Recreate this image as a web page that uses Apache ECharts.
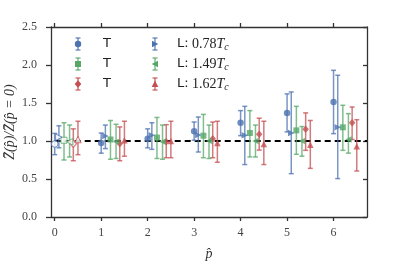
<!DOCTYPE html>
<html><head><meta charset="utf-8">
<script src="https://cdn.jsdelivr.net/npm/echarts@6/dist/echarts.min.js"></script>
<style>html,body{margin:0;padding:0;background:#fff}#c{width:407px;height:271px}</style>
</head><body><div id="c"></div><script>
// ---- data ----
const pValues = [0, 1, 2, 3, 4, 5, 6];
const xTicks = [0, 1, 2, 3, 4, 5, 6];
const yTicks = [0, 0.5, 1, 1.5, 2, 2.5];

const blueT     = [0.96, 0.975, 1.03, 1.128, 1.24, 1.37, 1.513];
const blueTLow  = [0.82, 0.84, 0.91, 1.01, 1.07, 1.12, 1.097];
const blueTHigh = [1.10, 1.105, 1.16, 1.25, 1.40, 1.62, 1.93];

const greenT     = [1.01, 1.02, 1.045, 1.07, 1.105, 1.14, 1.18];
const greenTLow  = [0.75, 0.76, 0.77, 0.78, 0.79, 0.825, 0.877];
const greenTHigh = [1.24, 1.27, 1.31, 1.35, 1.40, 1.456, 1.47];

const redT     = [0.965, 0.965, 0.99, 1.03, 1.09, 1.154, 1.24];
const redTLow  = [0.74, 0.74, 0.78, 0.78, 0.88, 0.877, 1.02];
const redTHigh = [1.16, 1.185, 1.215, 1.25, 1.30, 1.37, 1.447];

const blueL     = [1.05, 1.065, 1.075, 1.08, 1.075, 1.105, 1.18];
const blueLLow  = [0.91, 0.90, 0.89, 0.855, 0.69, 0.57, 0.505];
const blueLHigh = [1.20, 1.21, 1.24, 1.316, 1.456, 1.645, 1.865];

const greenL     = [0.99, 0.99, 0.99, 1.0, 1.0, 1.0, 1.02];
const greenLLow  = [0.79, 0.77, 0.76, 0.77, 0.79, 0.80, 0.84];
const greenLHigh = [1.21, 1.22, 1.21, 1.21, 1.21, 1.19, 1.36];

const redL     = [1.02, 1.01, 1.0, 0.975, 0.96, 0.95, 0.93];
const redLLow  = [0.82, 0.80, 0.78, 0.72, 0.69, 0.64, 0.605];
const redLHigh = [1.26, 1.26, 1.26, 1.26, 1.26, 1.27, 1.28];

const xOffsetsT = [0, 0.2, 0.4];     // blue, green, red (T)
const xOffsetsL = [0.09, 0.32, 0.5]; // blue, green, red (L)
const referenceLevel = 1;

// ---- styling ----
const BLUE = '#4C72B0', GREEN = '#55A868', RED = '#C44E52';
const SERIF = 'Liberation Serif';
const SANS = 'DejaVu Sans';

const groups = [
  {name:'T', val:blueT, lo:blueTLow, hi:blueTHigh, off:xOffsetsT[0], color:BLUE, symbol:'circle', size:6.5, rot:0},
  {name:'T', val:greenT, lo:greenTLow, hi:greenTHigh, off:xOffsetsT[1], color:GREEN, symbol:'rect', size:6, rot:0},
  {name:'T', val:redT, lo:redTLow, hi:redTHigh, off:xOffsetsT[2], color:RED, symbol:'diamond', size:[6.5,7.5], rot:0},
  {name:'L1', val:blueL, lo:blueLLow, hi:blueLHigh, off:xOffsetsL[0], color:BLUE, symbol:'triangle', size:6.5, rot:-90},
  {name:'L2', val:greenL, lo:greenLLow, hi:greenLHigh, off:xOffsetsL[1], color:GREEN, symbol:'triangle', size:6.5, rot:90},
  {name:'L3', val:redL, lo:redLLow, hi:redLHigh, off:xOffsetsL[2], color:RED, symbol:'triangle', size:6.5, rot:0}
];

const series = [];
series.push({
  type:'line', data:[[0, referenceLevel],[6.72, referenceLevel]], symbol:'none',
  lineStyle:{color:'#000', width:2, type:[6,4]}, z:1, silent:true
});
groups.forEach(g => {
  const errData = pValues.map((p,i) => [p + g.off, g.lo[i], g.hi[i]]);
  series.push({
    type:'custom', z:2, silent:true,
    data: errData,
    encode:{x:0, y:[1,2]},
    renderItem(params, api){
      const x = api.value(0);
      const a = api.coord([x, api.value(1)]);
      const b = api.coord([x, api.value(2)]);
      const cw = 2.5;
      const st = {stroke:g.color, lineWidth:1.5, opacity:0.75};
      return {type:'group', children:[
        {type:'line', shape:{x1:a[0], y1:a[1], x2:b[0], y2:b[1]}, style:st},
        {type:'line', shape:{x1:a[0]-cw, y1:a[1], x2:a[0]+cw, y2:a[1]}, style:st},
        {type:'line', shape:{x1:b[0]-cw, y1:b[1], x2:b[0]+cw, y2:b[1]}, style:st}
      ]};
    }
  });
  series.push({
    type:'scatter', z:3, silent:true,
    symbol:g.symbol, symbolSize:g.size, symbolRotate:g.rot,
    itemStyle:{color:g.color},
    data: pValues.map((p,i) => {
      const d = {value:[p + g.off, g.val[i]]};
      if (i === 0) d.itemStyle = {color:'#fff', borderColor:g.color, borderWidth:1};
      return d;
    })
  });
});

// ---- legend drawn with graphic elements ----
function legendMarker(g, cx, cy){
  const st = {stroke:g.color, lineWidth:1.5, opacity:0.75};
  const ch = [
    {type:'line', shape:{x1:cx, y1:cy-6, x2:cx, y2:cy+6}, style:st},
    {type:'line', shape:{x1:cx-2.5, y1:cy-6, x2:cx+2.5, y2:cy-6}, style:st},
    {type:'line', shape:{x1:cx-2.5, y1:cy+6, x2:cx+2.5, y2:cy+6}, style:st}
  ];
  const f = {fill:g.color};
  if (g.symbol === 'circle') ch.push({type:'circle', shape:{cx, cy, r:3.2}, style:f});
  else if (g.symbol === 'rect') ch.push({type:'rect', shape:{x:cx-3, y:cy-3, width:6, height:6}, style:f});
  else if (g.symbol === 'diamond') ch.push({type:'polygon', shape:{points:[[cx,cy-3.8],[cx+3.3,cy],[cx,cy+3.8],[cx-3.3,cy]]}, style:f});
  else if (g.rot === -90) ch.push({type:'polygon', shape:{points:[[cx+3.3,cy],[cx-3,cy-3.3],[cx-3,cy+3.3]]}, style:f});
  else if (g.rot === 90) ch.push({type:'polygon', shape:{points:[[cx-3.3,cy],[cx+3,cy-3.3],[cx+3,cy+3.3]]}, style:f});
  else ch.push({type:'polygon', shape:{points:[[cx,cy-3.5],[cx+3.3,cy+3],[cx-3.3,cy+3]]}, style:f});
  return ch;
}
const legendRows = [44, 64, 84];
const lTemps = ['0.78', '1.49', '1.62'];
const graphic = [];
for (let r = 0; r < 3; r++){
  graphic.push(...legendMarker(groups[r], 78, legendRows[r]));
  graphic.push({type:'text', x:103, y:legendRows[r], style:{text:'T', font:'13px ' + SANS, fill:'#222', verticalAlign:'middle'}});
  graphic.push(...legendMarker(groups[r+3], 155, legendRows[r]));
  graphic.push({type:'text', x:177, y:legendRows[r], style:{
    text:'{s|L:} {n|' + lTemps[r] + '}{i|T}{sub|c}',
    verticalAlign:'middle',
    rich:{
      s:{font:'13px ' + SANS, fill:'#222'},
      n:{font:'14px ' + SERIF, fill:'#222'},
      i:{font:'italic 14px ' + SERIF, fill:'#222'},
      sub:{font:'italic 10px ' + SERIF, fill:'#222', verticalAlign:'bottom', padding:[6,0,0,0]}
    }
  }});
}

const axisLineStyle = {color:'#333', width:1.3};
const option = {
  backgroundColor:'#fff',
  animation:false,
  grid:{left:51, right:40, top:27, bottom:54, containLabel:false, outerBoundsMode:'none'},
  xAxis:[{
    type:'value', min:-0.08, max:6.72, position:'bottom',
    name:'p\u0302', nameLocation:'middle', nameGap:30, nameMoveOverlap:false,
    nameTextStyle:{fontFamily:SERIF, fontStyle:'italic', fontSize:14, color:'#333'},
    axisLine:{show:true, onZero:false, lineStyle:axisLineStyle},
    axisTick:{show:true, length:4, customValues:xTicks, lineStyle:axisLineStyle},
    axisLabel:{customValues:xTicks, fontFamily:SERIF, fontSize:12, color:'#444', margin:10},
    splitLine:{show:false}
  },{
    type:'value', min:-0.08, max:6.72, position:'top',
    axisLine:{show:true, onZero:false, lineStyle:axisLineStyle},
    axisTick:{show:true, length:4, customValues:xTicks, lineStyle:axisLineStyle},
    axisLabel:{show:false}, splitLine:{show:false}
  }],
  yAxis:[{
    type:'value', min:0, max:2.5, interval:0.5, position:'left',
    name:'Z\u0304(p\u0302)/Z\u0304(p\u0302 = 0)', nameLocation:'middle', nameGap:34, nameRotate:90,
    nameMoveOverlap:false,
    nameTextStyle:{fontFamily:SERIF, fontStyle:'italic', fontSize:14, color:'#333'},
    axisLine:{show:true, onZero:false, lineStyle:axisLineStyle},
    axisTick:{show:true, length:5, lineStyle:axisLineStyle},
    axisLabel:{fontFamily:SERIF, fontSize:12, color:'#444', margin:14, formatter:v => v.toFixed(1)},
    splitLine:{show:false}
  },{
    type:'value', min:0, max:2.5, interval:0.5, position:'right',
    axisLine:{show:true, onZero:false, lineStyle:axisLineStyle},
    axisTick:{show:true, inside:true, length:4, lineStyle:axisLineStyle},
    axisLabel:{show:false}, splitLine:{show:false}
  }],
  graphic: graphic,
  series: series
};
echarts.init(document.getElementById('c'), null, {renderer:'canvas'}).setOption(option);
</script></body></html>
